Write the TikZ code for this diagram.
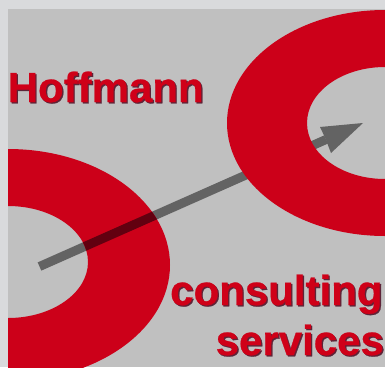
\documentclass[tikz,border=0pt]{standalone}
\usepackage{fontspec}
\setmainfont{Liberation Sans}
\newfontfamily\heavyfont[BoldFont={Liberation Sans Bold},BoldFeatures={FakeBold=0.6}]{Liberation Sans}
\definecolor{frameg}{HTML}{D9DADC}
\definecolor{panelg}{HTML}{C0C0C0}
\definecolor{ringred}{HTML}{CC0019}
\definecolor{arrowg}{HTML}{636363}
\definecolor{overlap}{HTML}{620010}
\definecolor{shadowc}{HTML}{5E2438}
\definecolor{textred}{HTML}{CF0018}
\tikzset{
  label text/.style={font=\fontsize{42}{42}\heavyfont\bfseries,inner sep=0pt,anchor=base west},
  shaft/.style={line width=9pt,line cap=butt},
}
\newcommand{\shadowed}[1]{\rlap{\kern1.3pt\raisebox{-1.3pt}{\textcolor{shadowc}{#1}}}\textcolor{textred}{#1}}
\begin{document}
\begin{tikzpicture}[x=1pt,y=-1pt]
\useasboundingbox (0,0) rectangle (385,367);
\fill[frameg] (0,0) rectangle (385,367);
\begin{scope}
\clip (8,9) rectangle (385,367);
\fill[panelg] (8,9) rectangle (385,367);
% arrow
\coordinate (tail) at (39.5,266.5);
\coordinate (neck) at (326,139.5);
\draw[shaft,arrowg] (tail) -- (neck);
\fill[arrowg] (363,123) -- (320,127) -- (325,137.5) -- (331,153) -- cycle;
% right ring (covers arrow)
\fill[ringred,even odd rule] (385,123) ellipse [x radius=158,y radius=113]
      (385,123) ellipse [x radius=78,y radius=56];
% left ring (arrow shows through, darkened)
\fill[ringred,even odd rule] (8,265) ellipse [x radius=162,y radius=116]
      (8,262) ellipse [x radius=80,y radius=56];
\begin{scope}
\clip (8,265) ellipse [x radius=162,y radius=116];
\begin{scope}[even odd rule]
\clip (-200,0) rectangle (600,500) (8,262) ellipse [x radius=80,y radius=56];
\draw[shaft,overlap] (tail) -- (neck);
\end{scope}
\end{scope}
\end{scope}
\node[label text] (hoffmann) at (7.5,102) {\shadowed{Hoffmann}};
\node[label text] (consulting) at (170,305) {\shadowed{consulting}};
\node[label text] (services) at (215.5,355) {\shadowed{services}};
\end{tikzpicture}
\end{document}
